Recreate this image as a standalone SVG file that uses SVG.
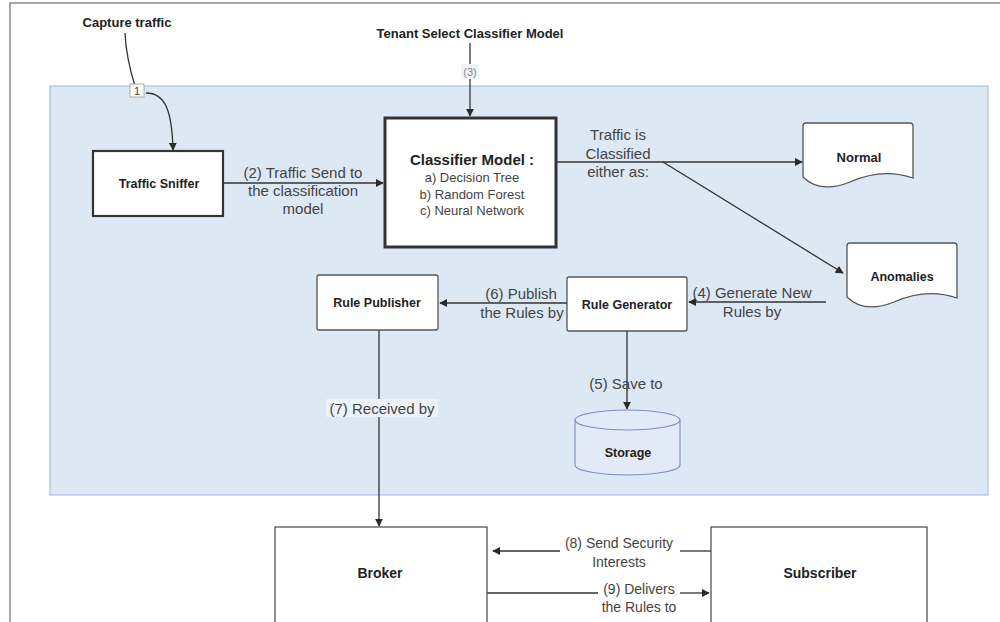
<svg xmlns="http://www.w3.org/2000/svg" width="1000" height="622" viewBox="0 0 1000 622">
<defs>
<marker id="ah" viewBox="0 0 10 10" refX="9" refY="5" markerWidth="8" markerHeight="8" markerUnits="userSpaceOnUse" orient="auto">
<path d="M0,0 L10,5 L0,10 Z" fill="#2a2a2a"/>
</marker>
<style>
.node{fill:#ffffff;stroke:#555;stroke-width:1.3}
.lbl{font-family:"Liberation Sans",Arial,sans-serif;font-weight:bold;fill:#222;text-anchor:middle;dominant-baseline:central}
.cl{font-family:"Liberation Sans",Arial,sans-serif;fill:#444;text-anchor:middle;dominant-baseline:central;font-size:15px}
.ln{fill:none;stroke:#333;stroke-width:1.3}
.arr{fill:none;stroke:#333;stroke-width:1.3;marker-end:url(#ah)}
</style>
</defs>
<rect x="0" y="0" width="1000" height="622" fill="#ffffff"/>
<path d="M10,622 V3 H1000" fill="none" stroke="#8a8a8a" stroke-width="1.5"/>
<rect id="region" x="50" y="86" width="938" height="409" fill="#dde8f5" stroke="#a2b5e0" stroke-width="1"/>

<g id="connectors">
<path class="ln" d="M125,33 C126,55 130,70 135,86"/>
<path class="arr" d="M146,93 C165,93 172,110 173,150"/>
<path class="arr" d="M470,43 V116"/>
<path class="arr" d="M224,183 H383"/>
<path class="ln" d="M557,162 H663"/>
<path class="arr" d="M663,162 H802"/>
<path class="arr" d="M663,162 L843,273"/>
<path class="arr" d="M826,302 H689"/>
<path class="arr" d="M567,303 H440"/>
<path class="arr" d="M627,331 V409"/>
<path class="arr" d="M379,330 V526"/>
<path class="ln" d="M711,551 H680"/>
<path class="arr" d="M560,551 H493"/>
<path class="ln" d="M487,593 H598"/>
<path class="arr" d="M680,593 H709"/>
</g>

<g id="labels">
<text class="lbl" x="127" y="22" font-size="13">Capture traffic</text>
<rect x="130" y="84" width="14" height="13" fill="#ffffff" stroke="#999" stroke-width="0.8"/>
<text class="cl" x="137" y="90.5" style="font-size:11px">1</text>
<text class="lbl" x="470" y="33" font-size="13">Tenant Select Classifier Model</text>
<rect x="461" y="64" width="18" height="15" fill="#f0f4fa"/>
<text class="cl" x="470" y="72" style="font-size:11px;fill:#888">(3)</text>
<text class="cl" x="303" y="172">(2) Traffic Send to</text>
<text class="cl" x="303" y="190">the classification</text>
<text class="cl" x="303" y="208">model</text>
<text class="cl" x="618" y="134">Traffic is</text>
<text class="cl" x="618" y="153">Classified</text>
<text class="cl" x="618" y="171">either as:</text>
<text class="cl" x="752" y="292">(4) Generate New</text>
<text class="cl" x="752" y="311">Rules by</text>
<text class="cl" x="521" y="293">(6) Publish</text>
<text class="cl" x="522" y="312">the Rules by</text>
<text class="cl" x="626" y="383">(5) Save to</text>
<rect x="326" y="399" width="112" height="18" fill="#edf2f9"/>
<text class="cl" x="382" y="408">(7) Received by</text>
<text class="cl" x="619" y="543" style="font-size:14px">(8) Send Security</text>
<text class="cl" x="619" y="562" style="font-size:14px">Interests</text>
<text class="cl" x="639" y="589" style="font-size:14px">(9) Delivers</text>
<text class="cl" x="639" y="607" style="font-size:14px">the Rules to</text>
</g>

<g id="traffic-sniffer">
<rect x="93" y="151" width="130" height="65" fill="#fff" stroke="#333" stroke-width="2.2"/>
<text class="lbl" x="159" y="184" font-size="12.5">Traffic Sniffer</text>
</g>

<g id="classifier-model">
<rect x="385" y="118" width="171" height="129" fill="#fff" stroke="#333" stroke-width="3"/>
<text class="lbl" x="472" y="159" font-size="15">Classifier Model :</text>
<text class="cl" x="472" y="177" style="font-size:13px">a) Decision Tree</text>
<text class="cl" x="472" y="194" style="font-size:13px">b) Random Forest</text>
<text class="cl" x="472" y="210" style="font-size:13px">c) Neural Network</text>
</g>

<g id="normal">
<path class="node" d="M806,123 H910 Q913,123 913,126 V178 C890,170 870,173 850,182 C830,190 815,189 803,177 V126 Q803,123 806,123 Z" stroke="#333" stroke-width="1.6"/>
<text class="lbl" x="859" y="157" font-size="13">Normal</text>
</g>

<g id="anomalies">
<path class="node" d="M850,243 H954 Q957,243 957,246 V298 C934,290 914,293 894,302 C874,310 859,309 847,297 V246 Q847,243 850,243 Z" stroke="#333" stroke-width="1.6"/>
<text class="lbl" x="902" y="277" font-size="12.5">Anomalies</text>
</g>

<g id="rule-generator">
<rect class="node" x="567" y="277" width="120" height="54" rx="2"/>
<text class="lbl" x="627" y="305" font-size="12.5">Rule Generator</text>
</g>

<g id="rule-publisher">
<rect class="node" x="317" y="275" width="121" height="55" rx="2"/>
<text class="lbl" x="377" y="303" font-size="12.5">Rule Publisher</text>
</g>

<g id="storage">
<path d="M575,420 V465 A52.5,10 0 0 0 680,465 V420 A52.5,10 0 0 0 575,420 Z" fill="#e1eaf6" stroke="#7d8fc2" stroke-width="1.1"/>
<path d="M575,420 A52.5,10 0 0 0 680,420" fill="none" stroke="#7d8fc2" stroke-width="1.1"/>
<text class="lbl" x="628" y="453" font-size="12.5">Storage</text>
</g>

<g id="broker">
<rect class="node" x="275" y="527" width="212" height="110"/>
<text class="lbl" x="380" y="573" font-size="14">Broker</text>
</g>

<g id="subscriber">
<rect class="node" x="711" y="527" width="216" height="110"/>
<text class="lbl" x="820" y="573" font-size="14">Subscriber</text>
</g>
</svg>
